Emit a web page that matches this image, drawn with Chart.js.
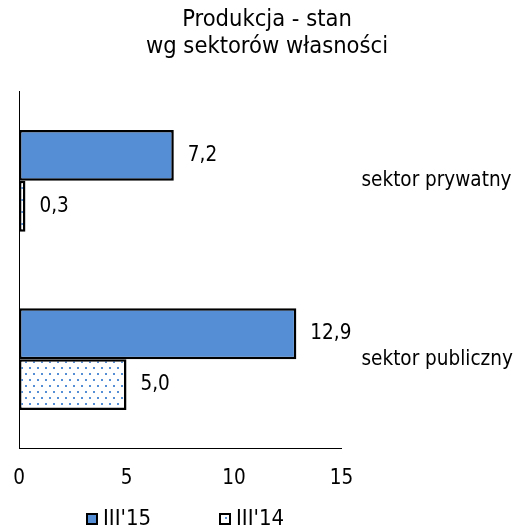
<!DOCTYPE html>
<html>
<head>
<meta charset="utf-8">
<script src="https://cdn.jsdelivr.net/npm/chart.js@4/dist/chart.umd.min.js"></script>
<style>
  html, body { margin: 0; padding: 0; background: #fff; }
  #wrap { width: 517px; height: 530px; }
</style>
</head>
<body>
<div id="wrap"><canvas id="c" width="517" height="530"></canvas></div>
<script>
// dane
const categories = ['sektor prywatny', 'sektor publiczny'];
const seriesNames = ["III'15", "III'14"];
const values2015 = [7.2, 12.9];
const values2014 = [0.3, 5.0];
const xTicks = [0, 5, 10, 15];

const BLUE = '#558ED5';
const FONT = "'DejaVu Sans Condensed', 'DejaVu Sans', Tahoma, sans-serif";
const TXT = 20.5;

// kropkowany wzór dla III'14
function dotPattern() {
  const t = document.createElement('canvas');
  t.width = 8; t.height = 12;
  const g = t.getContext('2d');
  g.fillStyle = '#fff';
  g.fillRect(0, 0, 8, 12);
  g.fillStyle = BLUE;
  g.fillRect(1, 1, 2, 2);
  g.fillRect(5, 7, 2, 2);
  return g.createPattern(t, 'repeat');
}

const fmt = (v) => v.toFixed(1).replace('.', ',');

// etykiety wartości przy końcach słupków
const valueLabels = {
  id: 'valueLabels',
  afterDatasetsDraw(chart) {
    const ctx = chart.ctx;
    ctx.save();
    ctx.font = TXT + 'px ' + FONT;
    ctx.fillStyle = '#000';
    ctx.textBaseline = 'middle';
    ctx.textAlign = 'left';
    chart.data.datasets.forEach((ds, di) => {
      chart.getDatasetMeta(di).data.forEach((el, i) => {
        ctx.fillText(fmt(ds.data[i]), el.x + 14, el.y);
      });
    });
    ctx.restore();
  }
};

// legenda pod wykresem: kwadrat z ramką + tekst
const bottomLegend = {
  id: 'bottomLegend',
  afterDraw(chart) {
    const ctx = chart.ctx;
    const area = chart.chartArea;
    const box = 12, gap = 5, stride = 133;
    ctx.save();
    ctx.font = '22px ' + FONT;
    ctx.textBaseline = 'middle';
    ctx.textAlign = 'left';
    let x = area.left + 67;
    const y = chart.height - 11;
    chart.data.datasets.forEach((ds) => {
      ctx.fillStyle = ds.backgroundColor;
      ctx.fillRect(x, y - box / 2, box, box);
      ctx.strokeStyle = '#000';
      ctx.lineWidth = 2;
      ctx.strokeRect(x + 1, y - box / 2 + 1, box - 2, box - 2);
      ctx.fillStyle = '#000';
      ctx.fillText(ds.label, x + box + gap, y);
      x += stride;
    });
    ctx.restore();
  }
};

const pattern = dotPattern();

new Chart(document.getElementById('c'), {
  type: 'bar',
  data: {
    labels: categories,
    datasets: [
      { label: seriesNames[0], data: values2015, backgroundColor: BLUE,
        borderColor: '#000', borderWidth: 2.5, borderSkipped: false },
      { label: seriesNames[1], data: values2014, backgroundColor: pattern,
        borderColor: '#000', borderWidth: 2.5, borderSkipped: false }
    ]
  },
  options: {
    indexAxis: 'y',
    responsive: false,
    animation: false,
    categoryPercentage: 0.57,
    barPercentage: 1,
    layout: { padding: { left: 19, right: 2, bottom: 29 } },
    plugins: {
      title: {
        display: true,
        text: ['Produkcja - stan', 'wg sektorów własności'],
        color: '#000',
        font: { family: FONT, size: 23.5, weight: 'normal', lineHeight: 1.12 },
        padding: { top: 7, bottom: 32 }
      },
      legend: { display: false },
      tooltip: { enabled: false }
    },
    scales: {
      x: {
        min: 0, max: 15,
        afterBuildTicks: (s) => { s.ticks = xTicks.map(v => ({ value: v })); },
        grid: { display: false },
        border: { display: true, color: '#000', width: 1 },
        ticks: { color: '#000', font: { family: FONT, size: TXT }, padding: 10 }
      },
      y: {
        position: 'left',
        grid: { display: false, drawTicks: false },
        border: { display: true, color: '#000', width: 1 },
        ticks: { display: false },
        afterFit: (s) => { s.width = 0; }
      },
      y2: {
        type: 'category',
        position: 'right',
        grid: { display: false, drawTicks: false },
        border: { display: false },
        ticks: { color: '#000', font: { family: FONT, size: TXT }, padding: 20 },
        afterFit: (s) => { s.width = 173.5; }
      }
    }
  },
  plugins: [valueLabels, bottomLegend]
});
</script>
</body>
</html>
